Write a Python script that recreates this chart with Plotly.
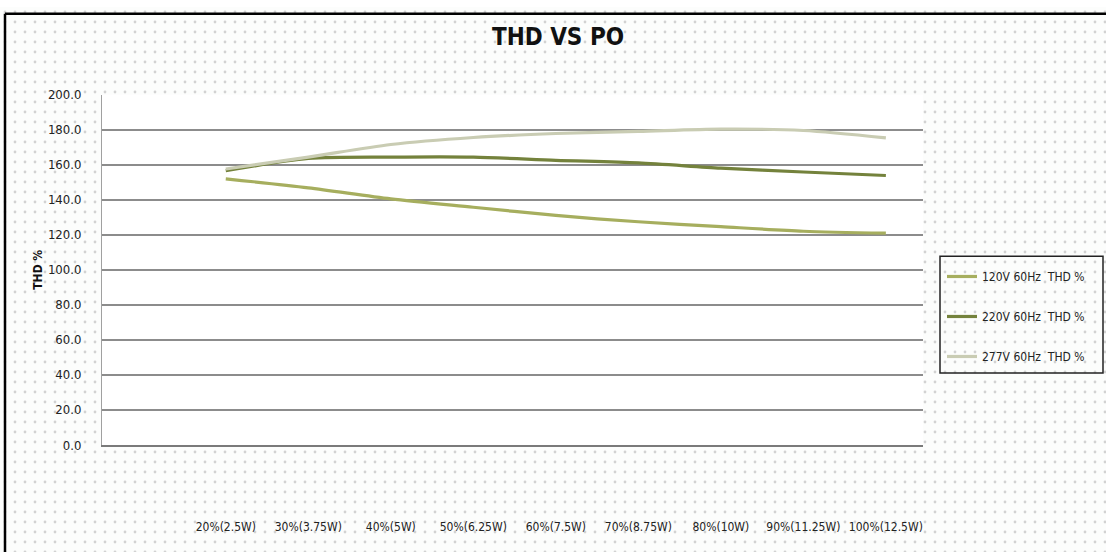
import plotly.graph_objects as go

categories = ["20%(2.5W)", "30%(3.75W)", "40%(5W)", "50%(6.25W)", "60%(7.5W)",
              "70%(8.75W)", "80%(10W)", "90%(11.25W)", "100%(12.5W)"]
thd_120v = [151.9, 146.8, 140.5, 135.7, 131.0, 127.4, 124.6, 122.0, 120.9]
thd_220v = [156.5, 163.5, 164.3, 164.3, 162.5, 161.0, 158.0, 155.8, 153.8]
thd_277v = [157.5, 164.3, 171.5, 175.5, 177.8, 179.0, 180.3, 179.5, 175.3]
series_names = ["120V 60Hz  THD %", "220V 60Hz  THD %", "277V 60Hz  THD %"]
series_colors = ["#a6ae5e", "#74823c", "#c9ccb3"]
y_ticks = [0, 20, 40, 60, 80, 100, 120, 140, 160, 180, 200]

W, H = 1106, 560
FONT = "Liberation Sans Narrow, DejaVu Sans Condensed, Arial Narrow, sans-serif"

# plot area in pixels
PL, PR, PT, PB = 102, 923, 90, 450
XR = [-1.5, 8.45]

fig = go.Figure()

# dotted background pattern covering the whole page
fig.add_trace(go.Bar(
    x=[0], y=[1], width=[1], xaxis="x", yaxis="y", showlegend=False, hoverinfo="skip",
    marker=dict(color="white", line=dict(width=0),
                pattern=dict(shape=".", size=10, solidity=0.06,
                             fgcolor="#a8a8a8", bgcolor="#fcfdfc")),
))

for vals, name, col in zip([thd_120v, thd_220v, thd_277v], series_names, series_colors):
    fig.add_trace(go.Scatter(
        x=categories, y=vals, name=name, mode="lines", xaxis="x2", yaxis="y2",
        line=dict(color=col, width=3.2, shape="spline", smoothing=0.8),
        legendgroup=name,
    ))

fig.update_layout(
    width=W, height=H,
    margin=dict(l=0, r=0, t=0, b=0),
    paper_bgcolor="white",
    plot_bgcolor="rgba(0,0,0,0)",
    font=dict(family=FONT, size=12, color="#222222"),
    showlegend=True,
    xaxis=dict(domain=[0, 1], range=[-0.5, 0.5], visible=False, fixedrange=True),
    yaxis=dict(domain=[0, 1], range=[0, 1], visible=False, fixedrange=True),
    xaxis2=dict(
        domain=[PL / W, PR / W], anchor="y2", type="category",
        categoryorder="array", categoryarray=categories,
        range=XR, showgrid=False, showline=True, linecolor="#7a7a7a", linewidth=2,
        ticks="", ticklabelstandoff=70,
        tickfont=dict(family=FONT, size=12, color="#222222"),
    ),
    yaxis2=dict(
        domain=[(H - PB) / H, (H - PT) / H], anchor="x2",
        range=[0, 200], tickvals=y_ticks, tickformat=".1f",
        showgrid=True, gridcolor="#8c8c8c", gridwidth=2,
        showline=True, linecolor="#a0a0a0", linewidth=1,
        zeroline=False, ticks="", ticklabelstandoff=17,
        tickfont=dict(family=FONT, size=13, color="#222222"),
        title=dict(text="<b>THD %</b>", font=dict(family=FONT, size=12, color="#111111"),
                   standoff=2),
    ),
    title=dict(text="<b>THD VS PO</b>", x=558 / W, xanchor="center",
               y=(H - 37) / H, yanchor="middle",
               font=dict(family=FONT, size=24, color="#111111")),
    legend=dict(
        x=942 / W, xanchor="left", y=(H - 262) / H, yanchor="top",
        bgcolor="rgba(0,0,0,0)", borderwidth=0,
        tracegroupgap=21, font=dict(family=FONT, size=12, color="#222222"),
        itemwidth=30,
    ),
    shapes=[
        # white plot area
        dict(type="rect", xref="x2", yref="y2", x0=XR[0], x1=XR[1], y0=0, y1=200,
             fillcolor="white", line=dict(width=0), layer="below"),
        # legend box
        dict(type="rect", xref="paper", yref="paper",
             x0=940 / W, x1=1103 / W, y0=(H - 376) / H, y1=(H - 256) / H,
             line=dict(color="#222222", width=1.5), fillcolor="rgba(0,0,0,0)"),
        # outer border (top and left)
        dict(type="line", xref="paper", yref="paper", x0=5 / W, x1=1, y0=(H - 7) / H, y1=(H - 7) / H,
             line=dict(color="black", width=2.5)),
        dict(type="line", xref="paper", yref="paper", x0=5 / W, x1=5 / W, y0=0, y1=(H - 7) / H,
             line=dict(color="black", width=2.5)),
    ],
)

fig.write_html("out.html", config={"displayModeBar": False},
               post_script="document.body.style.margin='0';document.body.style.overflow='hidden';")
